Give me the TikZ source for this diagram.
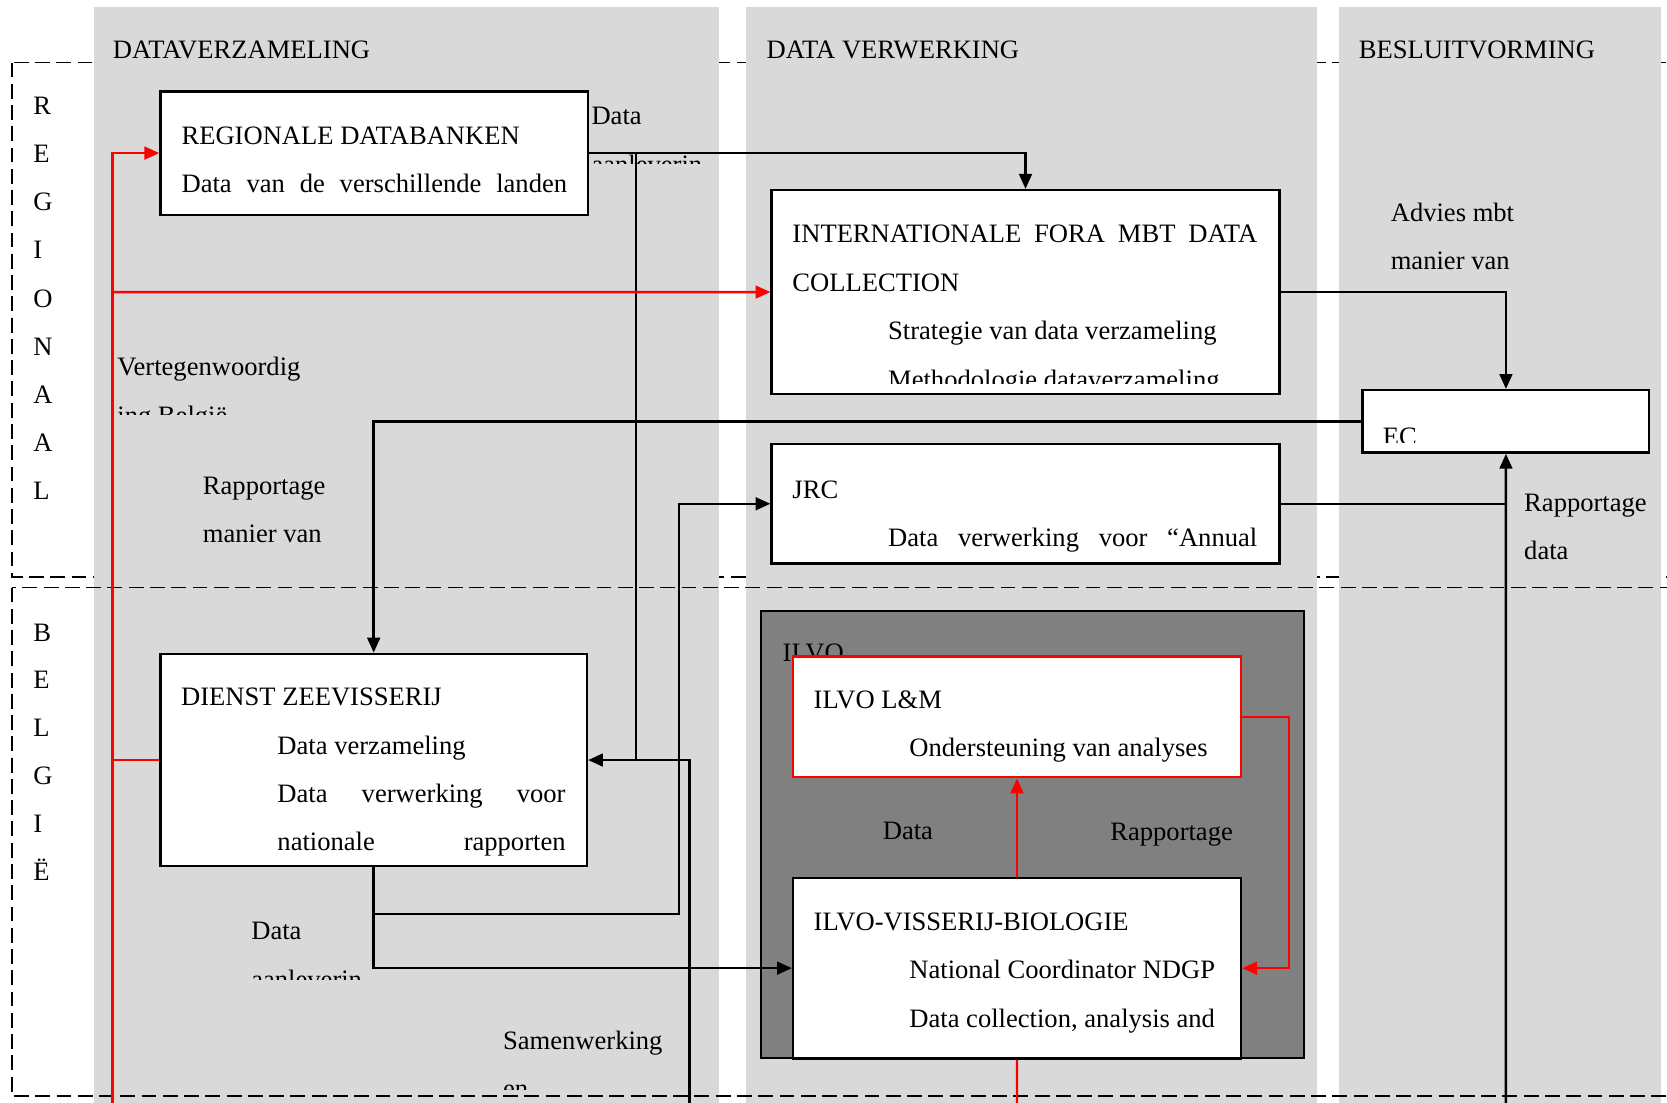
\documentclass[tikz,border=0pt]{standalone}
\usepackage{fontspec}
\setmainfont{Liberation Serif}
\usetikzlibrary{arrows.meta,fit}
\newcommand\myfs{\fontsize{12.5pt}{15pt}\selectfont}
\definecolor{colgray}{HTML}{D9D9D9}
\definecolor{ilvogray}{HTML}{808080}
\definecolor{lred}{HTML}{FF0000}
\begin{document}
\begin{tikzpicture}[x=0.5pt,y=-0.5pt,
  lbl/.style={anchor=base west, inner sep=0pt, font=\myfs},
  box/.style={draw=black, line width=1.15pt, fill=white, inner sep=0pt},
  redbox/.style={draw=lred, line width=1.15pt, fill=white, inner sep=0pt},
  darkbox/.style={draw=black, line width=1pt, fill=ilvogray, inner sep=0pt},
  column/.style={fill=colgray, draw=none},
  region/.style={draw=black, line width=0.75pt, dash pattern=on 7pt off 3pt},
  wire/.style={draw=black, line width=1.15pt},
  arr/.style={wire, -{Triangle[length=7pt,width=6pt]}},
  rwire/.style={draw=lred, line width=1.15pt},
  rarr/.style={rwire, -{Triangle[length=7pt,width=6pt]}}
]
\useasboundingbox (0,0) rectangle (1568,1036.6);
\fill[white] (0,0) rectangle (1568,1036.6);

% REGIONAAL frame (behind columns)
\draw[region] (11.5,58.8) rectangle (1575,543);

% columns
\path[column] (88,7) rectangle (676,1040);
\path[column] (702,7) rectangle (1238.5,1040);
\path[column] (1259,7) rectangle (1562.5,1040);

% BELGIE frame (over columns)
\draw[region] (11.5,552.7) rectangle (1575,1031);

% column headers
\node[lbl] (h1) at (105.8,55) {DATAVERZAMELING};
\node[lbl] (h2) at (720.7,55) {DATA VERWERKING};
\node[lbl] (h3) at (1277.7,55) {BESLUITVORMING};

% vertical letters
\foreach \l [count=\i from 0] in {R,E,G,I,O,N,A,A,L}
  \node[lbl] (reg\i) at (31,108+45.2*\i) {\l};
\foreach \l [count=\i from 0] in {B,E,L,G,I,Ë}
  \node[lbl] (bel\i) at (31,603+45*\i) {\l};

% ILVO container
\node[darkbox, fit={(716,574.4) (1226.5,995.5)}] (ilvo) {};
\node[lbl] (ilvot) at (735.8,622) {ILVO};

% boxes
\node[box, fit={(151,86) (553,202)}] (rd) {};
\node[box, fit={(725.8,178.8) (1203.4,370.6)}] (intl) {};
\node[box, fit={(1281.7,367) (1551.3,425.7)}] (ec) {};
\node[box, fit={(725.8,417.7) (1203.4,530)}] (jrc) {};
\node[box, fit={(151,615) (552,814.8)}] (dz) {};
\node[redbox, fit={(746,617.5) (1167.2,731)}] (lm) {};
\node[box, fit={(746,825.8) (1167.2,995.5)}] (vb) {};

% box texts
\node[lbl] (rdt1) at (170.4,136) {REGIONALE DATABANKEN};
\node[lbl] (rdt2) at (170.4,181.4) {\makebox[181.3pt][s]{Data van de verschillende landen}};

\node[lbl] (int1) at (745,228.5) {\makebox[218.6pt][s]{INTERNATIONALE FORA MBT DATA}};
\node[lbl] (int2) at (745,274) {COLLECTION};
\node[lbl] (int3) at (835,319.5) {Strategie van data verzameling};
\begin{scope}
  \clip (830,330) rectangle (1200,361);
  \node[lbl] (int4) at (835,365) {Methodologie dataverzameling};
\end{scope}

\begin{scope}
  \clip (1290,380) rectangle (1545,416.5);
  \node[lbl] (ect) at (1300.3,418.6) {EC};
\end{scope}

\node[lbl] (jrc1) at (745,469) {JRC};
\node[lbl] (jrc2) at (835,514) {\makebox[173.6pt][s]{Data verwerking voor “Annual}};

\node[lbl] (dz1) at (170,664) {DIENST ZEEVISSERIJ};
\node[lbl] (dz2) at (260.6,709.3) {Data verzameling};
\node[lbl] (dz3) at (260.6,755) {\makebox[135.5pt][s]{Data verwerking voor}};
\node[lbl] (dz4) at (260.6,800) {\makebox[135.5pt][s]{nationale rapporten}};

\node[lbl] (lm1) at (765,666) {ILVO L\&M};
\node[lbl] (lm2) at (855,712) {Ondersteuning van analyses};

\node[lbl] (vb1) at (765,875.3) {ILVO-VISSERIJ-BIOLOGIE};
\node[lbl] (vb2) at (855,920.8) {National Coordinator NDGP};
\node[lbl] (vb3) at (855,966.3) {Data collection, analysis and};

% free labels
\node[lbl] (l1a) at (556,117) {Data};
\begin{scope}
  \clip (550,140) rectangle (659,154);
  \node[lbl] (l1b) at (556,163) {aanleverin};
\end{scope}
\node[lbl] (l2a) at (110,353) {Vertegenwoordig};
\begin{scope}
  \clip (105,370) rectangle (300,390);
  \node[lbl] (l2b) at (110,399) {ing België};
\end{scope}
\node[lbl] (l3a) at (190.5,465.4) {Rapportage};
\node[lbl] (l3b) at (190.5,510.7) {manier van};
\node[lbl] (l4a) at (1307.8,208) {Advies mbt};
\node[lbl] (l4b) at (1307.8,253.7) {manier van};
\node[lbl] (l5a) at (1433.3,481) {Rapportage};
\node[lbl] (l5b) at (1433.3,526) {data};
\node[lbl] (l6a) at (236,884) {Data};
\begin{scope}
  \clip (230,900) rectangle (340,921);
  \node[lbl] (l6b) at (236,930) {aanleverin};
\end{scope}
\node[lbl] (l7a) at (472.8,986.7) {Samenwerking};
\begin{scope}
  \clip (465,1005) rectangle (560,1025);
  \node[lbl] (l7b) at (472.8,1032) {en};
\end{scope}
\node[lbl] (l8a) at (830,789.5) {Data};
\node[lbl] (l8b) at (1044,791) {Rapportage};

% coordinates for free ends / junctions
\coordinate (j598) at (598.2,144);
\coordinate (b649) at (648.6,1040);
\coordinate (b1416) at (1416.5,1040);
\coordinate (bred) at (105.8,1040);
\coordinate (jred) at (105.8,274.7);
\coordinate (bvb) at (956.6,1040);

% black connectors
\draw[arr] (rd.east) -| (intl.north);
\draw[wire] (j598) -- (j598 |- dz.east);
\draw[arr] (b649) |- (dz.east);
\draw[arr] (ec.west) -| (dz.north);
\draw[arr] (intl.east) -| (ec.north);
\draw[arr] (b1416) -- (ec.south);
\draw[wire] (jrc.east) -- (jrc.east -| ec.south);
\draw[arr] (dz.south) -- (351.5,859.6) -| (638.6,473.85) -- (jrc.west);
\draw[arr] (dz.south) |- (vb.west);

% red connectors
\draw[rarr] (bred) |- (rd.west);
\draw[rarr] (jred) -- (intl.west);
\draw[rwire] (dz.west) -- (dz.west -| bred);
\draw[rarr] (vb.north) -- (lm.south);
\draw[rarr] (lm.east) -- (1212.4,674.25) |- (vb.east);
\draw[rwire] (vb.south) -- (bvb);
\end{tikzpicture}
\end{document}
